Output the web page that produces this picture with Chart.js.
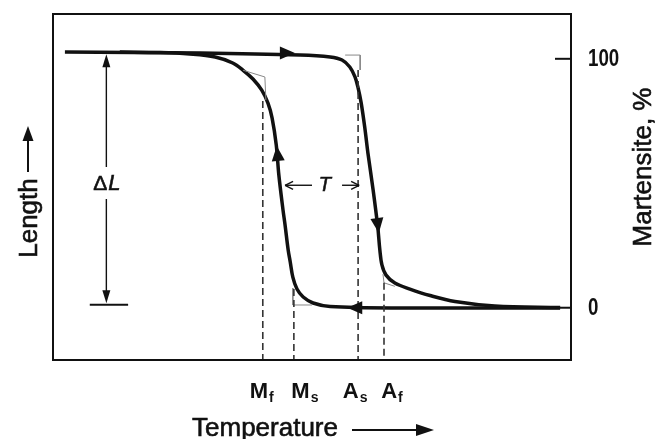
<!DOCTYPE html>
<html>
<head>
<meta charset="utf-8">
<script src="https://cdn.jsdelivr.net/npm/chart.js@4.4.1/dist/chart.umd.min.js"></script>
<style>
  html, body { margin: 0; padding: 0; background: #fff; }
</style>
</head>
<body>
<canvas id="hyst" width="655" height="439"></canvas>
<script>
// heating branch (top line, drops between As and Af)
const heatX = [2.3, 28.4, 47.7, 53.5, 55.8, 57.3, 58.3, 58.9, 59.5, 60.2, 60.8, 61.8, 62.7, 63.1, 63.5, 64.3, 66.0, 68.9, 72.8, 77.6, 85.3, 97.9];
const heatY = [102.7, 102.3, 101.5, 100.7, 99.5, 96.7, 92.7, 88.3, 82.2, 72.2, 62.1, 47.3, 32.4, 23.2, 17.2, 13.1, 9.9, 7.5, 4.9, 2.5, 0.7, 0.1];
// cooling branch (bottom line, rises between Ms and Mf)
const coolX = [97.9, 67.0, 53.5, 50.2, 48.3, 47.1, 46.3, 45.8, 45.4, 44.8, 44.4, 43.6, 43.1, 42.3, 41.5, 40.3, 38.6, 36.7, 34.7, 31.3, 26.4, 20.7, 12.9];
const coolY = [-0.1, -0.1, 0.5, 1.9, 4.3, 7.5, 12.3, 18.4, 23.2, 33.2, 39.3, 53.3, 65.4, 76.2, 82.2, 87.4, 91.9, 95.4, 98.3, 100.7, 101.9, 102.5, 102.7];

// transformation temperatures
const transNames = ['M', 'M', 'A', 'A'];
const transSubs = ['f', 's', 's', 'f'];
const transTemps = [40.5, 46.5, 58.9, 63.9];
const transTops = [83, 7.5, 95.5, 10];

// right axis (martensite, %)
const pctTicks = [0, 100];

// thin tangent constructions at the four transformation points
const tangentX = [[36.7, 40.9, 41.1], [46.3, 46.3, 50.0], [56.4, 59.3, 59.3], [63.7, 63.9, 66.0]];
const tangentY = [[95.4, 92.7, 83.4], [7.9, 1.1, 1.1], [101.5, 101.5, 95.5], [13.5, 10.0, 8.6]];

// ΔL marker and hysteresis width T
const dlX = 10.3, dlTop = 101.8, dlBottom = 1.8, dlBar = [7.1, 14.5], dlLabelY = 49.7;
const hystY = 49.2, hystX = [44.8, 50.0, 55.8, 59.1], hystLabelX = 52.5;

// direction arrows on the curves
const arrowX = [46.7, 62.9, 56.8, 43.2];
const arrowY = [102.3, 30.0, 0.0, 65.0];
const arrowDir = [[1, 0], [0.13, 1], [-1, 0], [-0.1, -1]];

// label nudges (px) so the M/A labels sit like in the printed figure
const labelShift = [-1, 11, -3, 8];

const pts = (xs, ys) => xs.map((v, i) => ({ x: v, y: ys[i] }));

const datasets = [];
transTemps.forEach((t, i) => {
  datasets.push({
    data: [{ x: t, y: transTops[i] }, { x: t, y: -21 }],
    borderColor: '#333', borderWidth: 1.6, borderDash: [7, 4], pointRadius: 0
  });
  datasets.push({
    data: pts(tangentX[i], tangentY[i]),
    borderColor: '#888', borderWidth: 1, pointRadius: 0
  });
});
datasets.push({ data: pts(heatX, heatY), borderColor: '#111', borderWidth: 3.5, tension: 0.35, pointRadius: 0 });
datasets.push({ data: pts(coolX, coolY), borderColor: '#111', borderWidth: 3.5, tension: 0.35, pointRadius: 0 });

function head(ctx, tx, ty, dx, dy, len, half) {
  const n = Math.hypot(dx, dy); dx /= n; dy /= n;
  const bx = tx - dx * len, by = ty - dy * len;
  ctx.beginPath();
  ctx.moveTo(tx, ty);
  ctx.lineTo(bx - dy * half, by + dx * half);
  ctx.lineTo(bx + dy * half, by - dx * half);
  ctx.closePath();
  ctx.fill();
}

function line(ctx, x1, y1, x2, y2) {
  ctx.beginPath(); ctx.moveTo(x1, y1); ctx.lineTo(x2, y2); ctx.stroke();
}

// slightly heavier text, the scan looks like a medium weight
function heavyText(ctx, s, px, py) {
  ctx.fillText(s, px, py);
  ctx.lineWidth = 0.6;
  ctx.strokeText(s, px, py);
}

const decor = {
  id: 'decor',
  afterDatasetsDraw(chart) {
    const { ctx, chartArea: a, scales: { x, y } } = chart;
    ctx.save();
    ctx.fillStyle = '#111';
    ctx.strokeStyle = '#111';

    // frame
    ctx.lineWidth = 2;
    ctx.strokeRect(a.left, a.top, a.right - a.left, a.bottom - a.top);

    // right ticks + labels
    ctx.font = 'bold 24px "Liberation Sans", Arial, sans-serif';
    ctx.textAlign = 'left';
    ctx.textBaseline = 'middle';
    pctTicks.forEach(v => {
      const py = y.getPixelForValue(v);
      ctx.lineWidth = 2;
      line(ctx, a.right - 16, py, a.right, py);
      ctx.save();
      ctx.translate(a.right + 17, py + 1);
      ctx.scale(0.78, 1);
      ctx.fillText(String(v), 0, 0);
      ctx.restore();
    });

    // arrows on curves
    arrowX.forEach((v, i) => {
      head(ctx, x.getPixelForValue(v), y.getPixelForValue(arrowY[i]), arrowDir[i][0], arrowDir[i][1], 15, 6.5);
    });

    // ΔL marker
    const lx = x.getPixelForValue(dlX);
    const lTop = y.getPixelForValue(dlTop), lBot = y.getPixelForValue(dlBottom);
    const lMid = y.getPixelForValue(dlLabelY);
    ctx.lineWidth = 1.4;
    line(ctx, lx, lTop + 8, lx, lMid - 17);
    line(ctx, lx, lMid + 15, lx, lBot - 8);
    head(ctx, lx, lTop, 0, -1, 13, 4);
    head(ctx, lx, lBot, 0, 1, 13, 4);
    ctx.lineWidth = 2;
    const by = y.getPixelForValue(dlBottom - 0.6);
    line(ctx, x.getPixelForValue(dlBar[0]), by, x.getPixelForValue(dlBar[1]), by);
    ctx.textBaseline = 'middle';
    ctx.textAlign = 'right';
    ctx.font = '21px "Liberation Sans", Arial, sans-serif';
    heavyText(ctx, 'Δ', lx + 1, lMid);
    ctx.textAlign = 'left';
    ctx.font = 'italic 22px "Liberation Sans", Arial, sans-serif';
    heavyText(ctx, 'L', lx + 2, lMid);

    // T marker
    const ty = y.getPixelForValue(hystY);
    ctx.lineWidth = 1.4;
    const hx = hystX.map(v => x.getPixelForValue(v));
    line(ctx, hx[0], ty, hx[1], ty);
    line(ctx, hx[2], ty, hx[3], ty);
    line(ctx, hx[0] + 8, ty - 4, hx[0], ty); line(ctx, hx[0], ty, hx[0] + 8, ty + 4);
    line(ctx, hx[3] - 8, ty - 4, hx[3], ty); line(ctx, hx[3], ty, hx[3] - 8, ty + 4);
    ctx.textAlign = 'center';
    ctx.font = 'italic 20px "Liberation Sans", Arial, sans-serif';
    heavyText(ctx, 'T', x.getPixelForValue(hystLabelX), ty);

    // transformation temperature labels
    ctx.textBaseline = 'alphabetic';
    transTemps.forEach((t, i) => {
      const px = x.getPixelForValue(t) + labelShift[i];
      ctx.font = 'bold 22px "Liberation Sans", Arial, sans-serif';
      const w1 = ctx.measureText(transNames[i]).width;
      ctx.font = 'bold 14px "Liberation Sans", Arial, sans-serif';
      const w2 = ctx.measureText(transSubs[i]).width;
      const x0 = px - (w1 + w2 + 1) / 2;
      ctx.textAlign = 'left';
      ctx.font = 'bold 22px "Liberation Sans", Arial, sans-serif';
      ctx.fillText(transNames[i], x0, a.bottom + 38);
      ctx.font = 'bold 14px "Liberation Sans", Arial, sans-serif';
      ctx.fillText(transSubs[i], x0 + w1 + 1, a.bottom + 42);
    });

    // axis titles
    ctx.font = '26px "Liberation Sans", Arial, sans-serif';
    ctx.textAlign = 'center';
    heavyText(ctx, 'Temperature', 265, 436);
    ctx.lineWidth = 2;
    line(ctx, 352, 430, 420, 430);
    head(ctx, 434, 430, 1, 0, 18, 6);

    ctx.save();
    ctx.translate(37, 218);
    ctx.rotate(-Math.PI / 2);
    heavyText(ctx, 'Length', 0, 0);
    ctx.restore();
    ctx.lineWidth = 2;
    line(ctx, 28, 172, 28, 138);
    head(ctx, 28, 126, 0, -1, 15, 5.5);

    ctx.save();
    ctx.translate(651, 167);
    ctx.rotate(-Math.PI / 2);
    heavyText(ctx, 'Martensite, %', 0, 0);
    ctx.restore();

    ctx.restore();
  }
};

new Chart(document.getElementById('hyst'), {
  type: 'scatter',
  data: { datasets: datasets.map(d => Object.assign({ showLine: true, fill: false }, d)) },
  options: {
    responsive: false,
    animation: false,
    layout: { padding: { left: 53, top: 14, right: 84, bottom: 79 } },
    plugins: { legend: { display: false }, tooltip: { enabled: false } },
    scales: {
      x: { type: 'linear', min: 0, max: 100, display: false },
      y: { type: 'linear', min: -21, max: 118, display: false }
    }
  },
  plugins: [decor]
});
</script>
</body>
</html>
